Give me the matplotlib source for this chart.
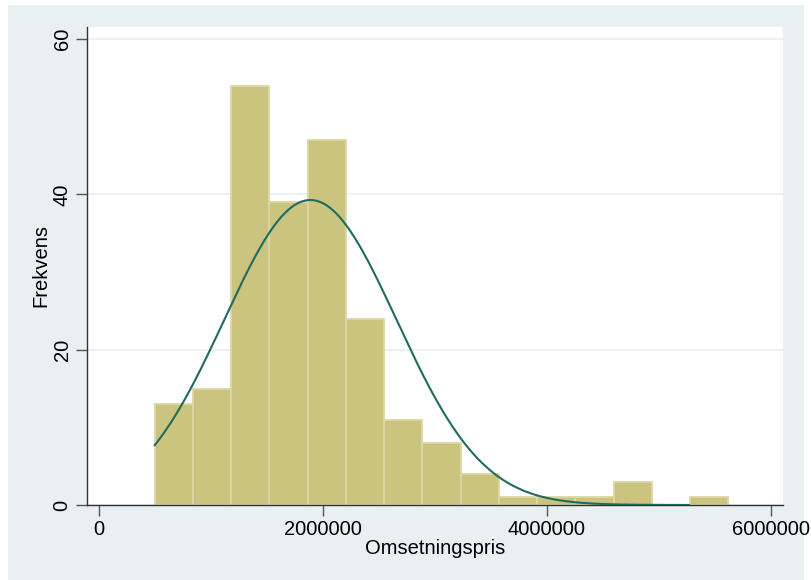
import numpy as np
import matplotlib
matplotlib.use("Agg")
import matplotlib.pyplot as plt
from matplotlib.patches import Rectangle

# histogram data
bin_start = 500000
bin_width = 341500
counts = [13, 15, 54, 39, 47, 24, 11, 8, 4, 1, 1, 1, 3, 0, 1]

# fitted normal curve
norm_mean = 1890000
norm_sd = 770000
curve_lo = 500000
curve_hi = 5270000

xticks = [0, 2000000, 4000000, 6000000]
yticks = [0, 20, 40, 60]

bg = '#e8f0f2'
bar_fill = '#cbc47e'
bar_edge = '#dcd7a6'
line_col = '#1f6b60'
fs = 14.5

plt.rcParams['font.family'] = ['Liberation Sans', 'DejaVu Sans']

fig = plt.figure(figsize=(8.11, 5.80), dpi=100)
fig.patch.set_facecolor('white')
fig.patches.append(Rectangle((8/811, 0), (804-8)/811, (580-5)/580,
                             transform=fig.transFigure, facecolor=bg,
                             edgecolor='none', zorder=-10))

ax = fig.add_axes([87/811, 75/580, 696/811, (505-26.7)/580])
ax.set_facecolor('white')

n = len(counts)
lefts = bin_start + bin_width * np.arange(n)
ax.bar(lefts, counts, width=bin_width, align='edge', color=bar_fill,
       edgecolor=bar_edge, linewidth=1.3, zorder=2)

total = sum(counts)
xs = np.linspace(curve_lo, curve_hi, 400)
ys = total * bin_width / (norm_sd * np.sqrt(2*np.pi)) * np.exp(-0.5*((xs-norm_mean)/norm_sd)**2)
ax.plot(xs, ys, color=line_col, linewidth=1.5, zorder=3)

ax.set_xlim(-104500, 6110000)
ax.set_ylim(0, 61.6)

ax.set_yticks(yticks)
ax.set_yticklabels([str(v) for v in yticks], rotation=90, va='center', fontsize=fs)
ax.set_xticks(xticks)
ax.set_xticklabels([str(v) for v in xticks], fontsize=fs)
ax.tick_params(axis='both', length=8, width=1, color='#555555', pad=3)
ax.yaxis.grid(True, color='#ebf2f4', linewidth=1.5, zorder=0)
ax.set_axisbelow(True)

for s in ['top', 'right']:
    ax.spines[s].set_visible(False)
for s in ['left', 'bottom']:
    ax.spines[s].set_color('#333333')
    ax.spines[s].set_linewidth(1.0)

ax.set_xlabel('Omsetningspris', fontsize=fs, va='center')
ax.set_ylabel('Frekvens', fontsize=fs, va='center')
ax.xaxis.set_label_coords(0.5, (505-549)/478.3)
ax.yaxis.set_label_coords((41-87)/696, 0.5)

fig.savefig('out.png', dpi=100)
